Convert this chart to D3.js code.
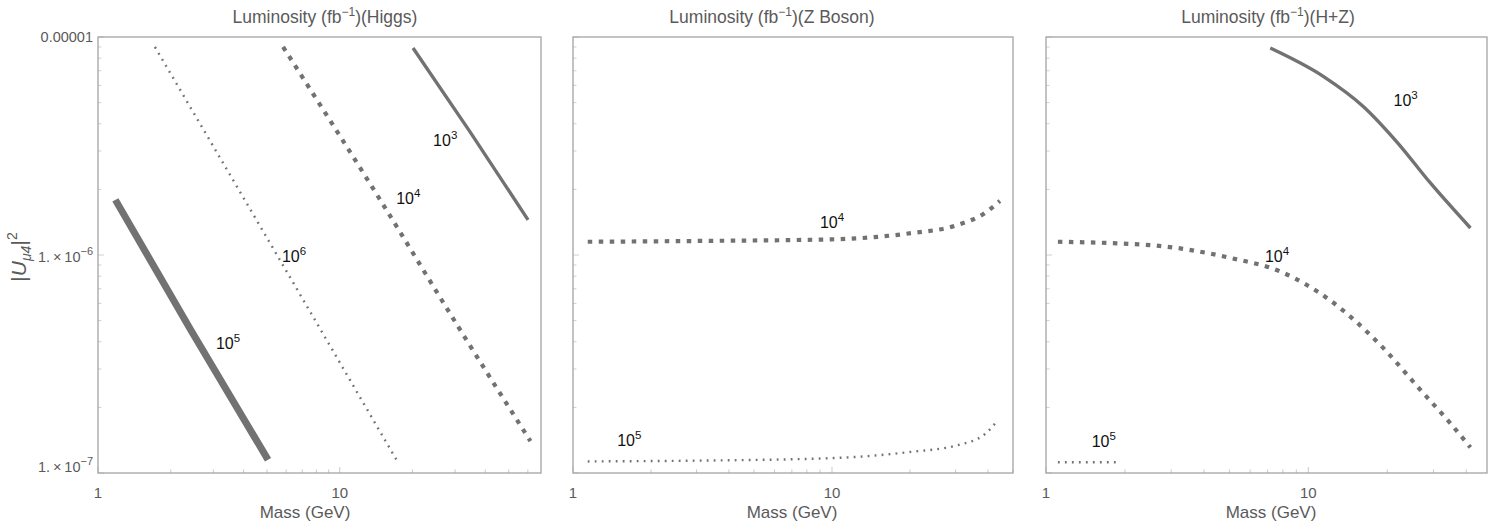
<!DOCTYPE html>
<html>
<head>
<meta charset="utf-8">
<script src="https://cdn.jsdelivr.net/npm/d3@7"></script>
<style>
  body { margin: 0; background: #fff; }
  svg { display: block; font-family: "Liberation Sans", Arial, sans-serif; }
</style>
</head>
<body>
<svg id="chart" width="1493" height="527"></svg>
<script>
// ---- Contour data: mass (GeV) vs |U_mu4|^2 for fixed luminosity ----
// Higgs channel
const higgsL3Mass = [20.1, 34.6, 60.1];
const higgsL3U    = [8.9e-6, 3.67e-6, 1.45e-6];
const higgsL4Mass = [5.83, 14.7, 31.5, 61.5];
const higgsL4U    = [9.0e-6, 1.79e-6, 4.53e-7, 1.40e-7];
const higgsL6Mass = [1.72, 5.5, 17.4];
const higgsL6U    = [9.0e-6, 1.0e-6, 1.12e-7];
const higgsL5Mass = [1.18, 2.42, 5.05];
const higgsL5U    = [1.79e-6, 4.53e-7, 1.15e-7];

// Z boson channel
const zL4Mass = [1.14, 3.09, 10, 20.2, 30.4, 39.0, 44.5];
const zL4U    = [1.15e-6, 1.16e-6, 1.18e-6, 1.26e-6, 1.37e-6, 1.56e-6, 1.77e-6];
const zL5Mass = [1.14, 3.09, 10, 20.2, 30.4, 39.0, 43.7];
const zL5U    = [1.13e-7, 1.14e-7, 1.17e-7, 1.25e-7, 1.34e-7, 1.51e-7, 1.75e-7];

// Combined H+Z channel
const hzL3Mass = [7.16, 11.4, 16.2, 21.9, 29.2, 41.5];
const hzL3U    = [8.9e-6, 6.6e-6, 4.8e-6, 3.27e-6, 2.14e-6, 1.33e-6];
const hzL4Mass = [1.11, 2.49, 5.04, 7.82, 12.1, 18.8, 26.8, 34.8, 41.5];
const hzL4U    = [1.15e-6, 1.11e-6, 9.7e-7, 8.4e-7, 6.2e-7, 3.87e-7, 2.40e-7, 1.69e-7, 1.31e-7];
const hzL5Mass = [1.11, 1.87];
const hzL5U    = [1.12e-7, 1.12e-7];

// Contour labels (luminosity exponent and anchor point in data units)
const higgsLabels = [[3, 27.3, 3.37e-6], [4, 19.2, 1.82e-6], [6, 6.47, 9.9e-7], [5, 3.45, 3.94e-7]];
const zLabels     = [[4, 10.0, 1.42e-6], [5, 1.65, 1.42e-7]];
const hzLabels    = [[3, 23.5, 5.14e-6], [4, 7.6, 9.9e-7], [5, 1.66, 1.40e-7]];

const panelTitles = ["Higgs", "Z Boson", "H+Z"];
const xTickLabels = ["1", "10"];
const yTickValues = [1e-5, 1e-6, 1e-7];

// Line styles by luminosity exponent
const styles = {
  3: { width: 3.4, dash: null },
  4: { width: 4.2, dash: "4.5,6.5" },
  5: { width: 7, dash: null },
  6: { width: 2.4, dash: "1.8,5.2" },
  "5d": { width: 2.4, dash: "1.8,5.2" }
};

const panels = [
  { title: panelTitles[0], left: 98, right: 541, xmax: 68, titleX: 325, labelX: 305, labels: higgsLabels,
    curves: [[higgsL3Mass, higgsL3U, 3], [higgsL4Mass, higgsL4U, 4], [higgsL6Mass, higgsL6U, 6], [higgsL5Mass, higgsL5U, 5]] },
  { title: panelTitles[1], left: 573, right: 1013, xmax: 50, titleX: 772, labelX: 792, labels: zLabels,
    curves: [[zL4Mass, zL4U, 4], [zL5Mass, zL5U, "5d"]] },
  { title: panelTitles[2], left: 1046, right: 1487, xmax: 48, titleX: 1268, labelX: 1271, labels: hzLabels,
    curves: [[hzL3Mass, hzL3U, 3], [hzL4Mass, hzL4U, 4], [hzL5Mass, hzL5U, "5d"]] }
];

const plotTop = 37, plotBottom = 473;
const svg = d3.select("#chart");
const lineColor = "#727272";
const frameColor = "#a4a4a4";
const textColor = "#5a5a5a";

const y = d3.scaleLog().domain([1e-7, 1e-5]).range([plotBottom, plotTop]);

panels.forEach((p, pi) => {
  const x = d3.scaleLog().domain([1, p.xmax]).range([p.left, p.right]);
  const g = svg.append("g");

  // minor / major ticks along frame edges
  const xt = [];
  for (let d = 1; d <= 10; d *= 10) for (let k = 1; k <= 9; k++) if (k * d <= p.xmax) xt.push(k * d);
  g.selectAll("line.xt").data(xt).join("line")
    .attr("x1", d => x(d)).attr("x2", d => x(d))
    .attr("y1", plotBottom).attr("y2", d => plotBottom - ([1, 10].includes(d) ? 6 : 3.5))
    .attr("stroke", "#c8c8c8").attr("stroke-width", 1);
  const yt = [];
  for (let d = 1e-7; d < 1.01e-5; d *= 10) for (let k = 1; k <= 9; k++) if (k * d <= 1.0001e-5) yt.push(k * d);
  g.selectAll("line.yt").data(yt).join("line")
    .attr("x1", p.left).attr("x2", d => p.left + (yTickValues.some(v => Math.abs(v - d) / v < 1e-6) ? 6 : 3.5))
    .attr("y1", d => y(d)).attr("y2", d => y(d))
    .attr("stroke", "#d0d0d0").attr("stroke-width", 1);

  // frame
  g.append("rect")
    .attr("x", p.left).attr("y", plotTop)
    .attr("width", p.right - p.left).attr("height", plotBottom - plotTop)
    .attr("fill", "none").attr("stroke", frameColor).attr("stroke-width", 1.3);

  // contours
  const line = d3.line().x(d => x(d[0])).y(d => y(d[1])).curve(d3.curveMonotoneX);
  p.curves.forEach(([ms, us, key]) => {
    const pts = ms.map((m, i) => [m, us[i]]);
    const s = styles[key];
    g.append("path")
      .attr("d", line(pts))
      .attr("fill", "none")
      .attr("stroke", lineColor)
      .attr("stroke-width", s.width)
      .attr("stroke-dasharray", s.dash)
      .attr("stroke-linecap", "butt");
  });

  // contour labels 10^n
  p.labels.forEach(([e, m, u]) => {
    const t = g.append("text")
      .attr("x", x(m)).attr("y", y(u) + 6)
      .attr("font-size", 16).attr("fill", "#111")
      .attr("text-anchor", "middle");
    t.append("tspan").text("10");
    t.append("tspan").attr("dy", -7).attr("font-size", 11.5).text(e);
  });

  // title
  const ti = g.append("text")
    .attr("x", p.titleX).attr("y", 23)
    .attr("text-anchor", "middle").attr("font-size", 17.5).attr("fill", textColor);
  ti.append("tspan").text("Luminosity (fb");
  ti.append("tspan").attr("dy", -7).attr("font-size", 12).text("\u22121");
  ti.append("tspan").attr("dy", 7).text(")(" + p.title + ")");

  // x tick labels
  g.selectAll("text.xl").data(xTickLabels).join("text")
    .attr("x", d => x(+d)).attr("y", 498)
    .attr("text-anchor", "middle").attr("font-size", 15).attr("fill", textColor)
    .text(d => d);

  // x axis title
  g.append("text")
    .attr("x", p.labelX).attr("y", 518)
    .attr("text-anchor", "middle").attr("font-size", 17).attr("fill", textColor)
    .text("Mass (GeV)");

  if (pi === 0) {
    // y tick labels
    g.append("text").attr("x", 93).attr("y", plotTop + 5)
      .attr("text-anchor", "end").attr("font-size", 14.5).attr("fill", textColor)
      .text("0.00001");
    [[1e-6, "\u22126", 7], [1e-7, "\u22127", -1]].forEach(([v, e, off]) => {
      const t = g.append("text").attr("x", 93).attr("y", y(v) + off)
        .attr("text-anchor", "end").attr("font-size", 14.5).attr("fill", textColor);
      t.append("tspan").text("1.\u2009\u00d7\u200910");
      t.append("tspan").attr("dy", -7).attr("font-size", 11).text(e);
    });

    // y axis title |U_mu4|^2
    const yl = g.append("text")
      .attr("transform", `translate(26,${(plotTop + plotBottom) / 2 + 2}) rotate(-90)`)
      .attr("text-anchor", "middle").attr("font-size", 21).attr("fill", textColor);
    yl.append("tspan").text("|");
    yl.append("tspan").attr("font-style", "italic").text("U");
    yl.append("tspan").attr("dy", 5).attr("font-size", 14).attr("font-style", "italic").text("\u03bc4");
    yl.append("tspan").attr("dy", -5).text("|");
    yl.append("tspan").attr("dy", -9).attr("font-size", 14).text("2");
  }
});
</script>
</body>
</html>
